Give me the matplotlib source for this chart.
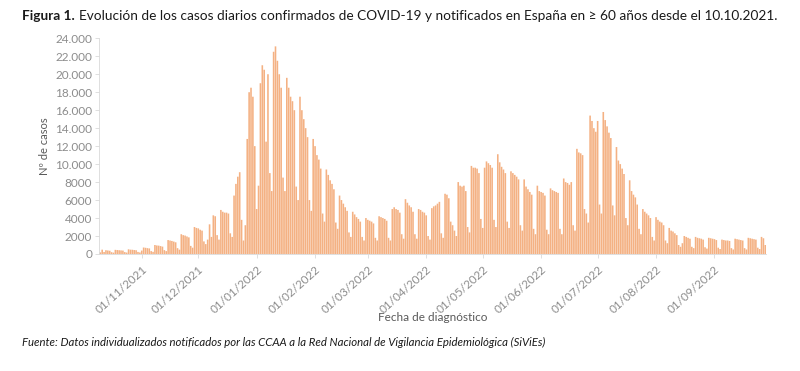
import numpy as np
import pandas as pd
import matplotlib
matplotlib.use('Agg')
import matplotlib.pyplot as plt
import matplotlib.dates as mdates
import matplotlib.transforms as mtransforms
from matplotlib.ticker import FuncFormatter

# Casos diarios (>= 60 años), por mes
oct_2021 = [180,
            480, 220, 420, 390, 360, 200, 150,
            460, 440, 420, 400, 380, 210, 160,
            520, 480, 470, 440, 420, 230, 170]
nov_2021 = [380, 720, 690, 650, 620, 320, 240,
            1000, 950, 930, 880, 820, 430, 320,
            1550, 1500, 1450, 1380, 1300, 650, 480,
            2200, 2100, 2050, 1950, 1850, 900, 700,
            3000, 2900]
dic_2021 = [2850, 2700, 2600, 1400, 1100,
            1600, 3300, 1900, 4300, 4200, 2100, 1600,
            4900, 4700, 4600, 4600, 4500, 2300, 1900,
            6500, 7800, 8600, 9100, 3800, 1500, 3200,
            12800, 18000, 18500, 17500, 12000]
ene_2022 = [5000, 7600,
            19000, 21000, 20500, 12500, 20000, 9000, 7000,
            22500, 23100, 21500, 20000, 18500, 8500, 7000,
            19600, 18500, 17500, 17000, 16000, 7500, 6000,
            17500, 16000, 15000, 14000, 13000, 6000, 4800,
            12800]
feb_2022 = [12000, 11000, 10500, 9500, 4500, 3600,
            9400, 8800, 8200, 7800, 7200, 3500, 2800,
            6500, 6000, 5600, 5200, 4800, 2400, 1900,
            4700, 4400, 4100, 3900, 3600, 1900, 1500,
            4000]
mar_2022 = [3800, 3700, 3600, 3400, 1800, 1500,
            4200, 4100, 4000, 3900, 3700, 1800, 1500,
            5000, 5200, 5000, 4900, 4600, 2200, 1700,
            6100, 5700, 5400, 5200, 4700, 2200, 1700,
            5000, 4900, 4700, 4600]
abr_2022 = [4300, 2000, 1600,
            5100, 5300, 5400, 5600, 5800, 2300, 1800,
            6700, 6600, 6200, 3600, 3200, 2600, 2000,
            8000, 7600, 7500, 7600, 7000, 3000, 2400,
            9800, 9600, 9600, 9500, 9000, 3900]
may_2022 = [2900,
            9600, 10300, 10100, 9900, 9600, 3800, 3000,
            11100, 10200, 9700, 9400, 9000, 3600, 2900,
            9200, 9000, 8800, 8600, 8300, 3200, 2600,
            8300, 7500, 7200, 6900, 6600, 2800, 2200,
            7600, 7000]
jun_2022 = [6900, 6800, 6500, 2700, 2200,
            7300, 7100, 7000, 6900, 6800, 2800, 2200,
            8400, 8000, 7900, 7700, 8000, 3200, 2600,
            11700, 11300, 11200, 11000, 5000, 4500, 3500,
            15400, 14800, 14000, 13600]
jul_2022 = [14800, 5500, 4500,
            15800, 14900, 14200, 13500, 12900, 5400, 4300,
            11900, 10400, 10000, 9500, 8900, 4000, 3200,
            8200, 7000, 6600, 6300, 5500, 2800, 2200,
            5000, 4700, 4500, 4300, 4000, 1900, 1500]
ago_2022 = [4100, 3800, 3600, 3500, 3200, 1500, 1200,
            2900, 2600, 2500, 2300, 2100, 1000, 800,
            1200, 2000, 1900, 1800, 1700, 800, 650,
            1900, 1800, 1750, 1700, 1600, 750, 600,
            1800, 1750, 1700]
sep_2022 = [1650, 1550, 700, 550,
            1600, 1550, 1500, 1500, 1450, 650, 500,
            1700, 1650, 1600, 1550, 1500, 650, 500,
            1800, 1750, 1700, 1650, 1600, 700, 550,
            1900, 1750, 1000]

casos = (oct_2021 + nov_2021 + dic_2021 + ene_2022 + feb_2022 + mar_2022 +
         abr_2022 + may_2022 + jun_2022 + jul_2022 + ago_2022 + sep_2022)
fechas = pd.date_range('2021-10-10', periods=len(casos), freq='D')
ticks_fechas = pd.date_range('2021-11-01', '2022-09-01', freq='MS')

fuente = ['Lato', 'DejaVu Sans']
plt.rcParams['font.family'] = fuente

fig = plt.figure(figsize=(8, 3.71), dpi=100)
ax = fig.add_axes([0.124, 0.3154, 0.834, 0.5814])

ax.bar(fechas, casos, width=0.85, color='#F4B183', edgecolor='none', snap=False)

ax.set_xlim(fechas[0] - pd.Timedelta(hours=14), fechas[-1] + pd.Timedelta(hours=14))
ax.set_ylim(0, 24000)
ax.set_yticks(np.arange(0, 24001, 2000))


def miles(v, pos):
    v = int(v)
    if v >= 10000:
        return '{:,}'.format(v).replace(',', '.')
    return str(v)


ax.yaxis.set_major_formatter(FuncFormatter(miles))
ax.set_xticks(ticks_fechas)
ax.xaxis.set_major_formatter(mdates.DateFormatter('%d/%m/%Y'))

# etiquetas giradas, un poco desplazadas a la derecha como en Excel
desplaza = mtransforms.ScaledTranslation(5 / 100, 0, fig.dpi_scale_trans)
for lab in ax.get_xticklabels():
    lab.set_rotation(42)
    lab.set_ha('right')
    lab.set_rotation_mode('anchor')
    lab.set_transform(lab.get_transform() + desplaza)

ax.tick_params(axis='y', labelsize=8.5, colors='#d9d9d9', labelcolor='#8c8c8c',
               length=3, width=0.6, pad=2)
ax.tick_params(axis='x', labelsize=8.5, colors='#d9d9d9', labelcolor='#8c8c8c',
               length=3, width=0.6, pad=4)

for s in ['top', 'right']:
    ax.spines[s].set_visible(False)
ax.spines['left'].set_color('#d9d9d9')
ax.spines['bottom'].set_color('#d9d9d9')
ax.spines['left'].set_linewidth(0.6)
ax.spines['bottom'].set_linewidth(0.6)

ax.set_ylabel('Nº de casos', fontsize=8, color='#595959', labelpad=4)
ax.set_xlabel('Fecha de diagnóstico', fontsize=8.5, color='#595959')
ax.xaxis.set_label_coords(0.5, -0.296)
ax.xaxis.label.set_va('center')

# Título: "Figura 1." en negrita y el resto normal
fig.canvas.draw()
r = fig.canvas.get_renderer()
t1 = fig.text(22 / 800, 1 - 16 / 371, 'Figura 1.', fontsize=9.8, fontweight='bold',
              va='center', ha='left', color='#1a1a1a')
bb = t1.get_window_extent(renderer=r)
fig.text((bb.x1 + 4) / 800, 1 - 16 / 371,
         'Evolución de los casos diarios confirmados de COVID-19 y notificados en España '
         'en ≥ 60 años desde el 10.10.2021.',
         fontsize=9.8, va='center', ha='left', color='#1a1a1a')

fig.text(22 / 800, 1 - 342 / 371,
         'Fuente: Datos individualizados notificados por las CCAA a la Red Nacional de '
         'Vigilancia Epidemiológica (SiViEs)',
         fontsize=8.2, style='italic', va='center', ha='left', color='#1a1a1a')

fig.savefig('out.png', dpi=100, facecolor='white')
